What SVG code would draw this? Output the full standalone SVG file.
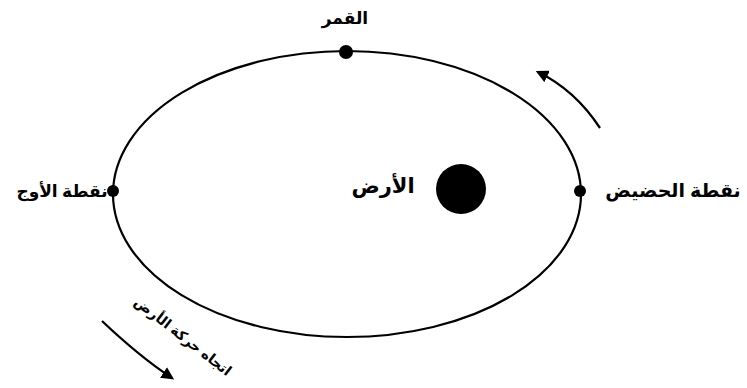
<svg xmlns="http://www.w3.org/2000/svg" width="747" height="388" viewBox="0 0 747 388">
<style>
.lbl{font-family:"Noto Sans","DejaVu Sans",sans-serif;fill:#000;font-weight:bold}
.orb{fill:none;stroke:#000;stroke-width:2.2}
.arr{fill:none;stroke:#000;stroke-width:2.3}
</style>
<defs>
<marker id="ah" viewBox="0 0 10 10" refX="8" refY="5" markerWidth="5.5" markerHeight="5.5" orient="auto" markerUnits="strokeWidth">
<path d="M0,0 L10,5 L0,10 z" fill="#000"/>
</marker>
</defs>
<rect width="747" height="388" fill="#fff"/>
<g id="orbit"><ellipse class="orb" cx="347" cy="194" rx="234" ry="143"/></g>
<g id="earth">
<circle cx="461" cy="189" r="25" fill="#000"/>
<text class="lbl" x="383" y="193" font-size="21" text-anchor="middle" direction="rtl">الأرض</text>
</g>
<g id="moon">
<circle cx="346" cy="52" r="7" fill="#000"/>
<text class="lbl" x="345" y="24" font-size="17" text-anchor="middle" direction="rtl">القمر</text>
</g>
<g id="apogee">
<circle cx="113" cy="191" r="6" fill="#000"/>
<text class="lbl" x="62" y="197" font-size="17" text-anchor="middle" direction="rtl">نقطة الأوج</text>
</g>
<g id="perigee">
<circle cx="580" cy="191" r="6" fill="#000"/>
<text class="lbl" x="673" y="197" font-size="19" text-anchor="middle" direction="rtl">نقطة الحضيض</text>
</g>
<g id="connectors">
<path class="arr" d="M600,128 Q575,90 538,72" marker-end="url(#ah)"/>
<path class="arr" d="M102,321 Q140,357 172,378" marker-end="url(#ah)"/>
</g>
<g id="direction-label">
<text class="lbl" font-size="14" letter-spacing="1" text-anchor="middle" direction="rtl" transform="translate(180,340) rotate(38)">اتجاه حركة الأرض</text>
</g>
</svg>
